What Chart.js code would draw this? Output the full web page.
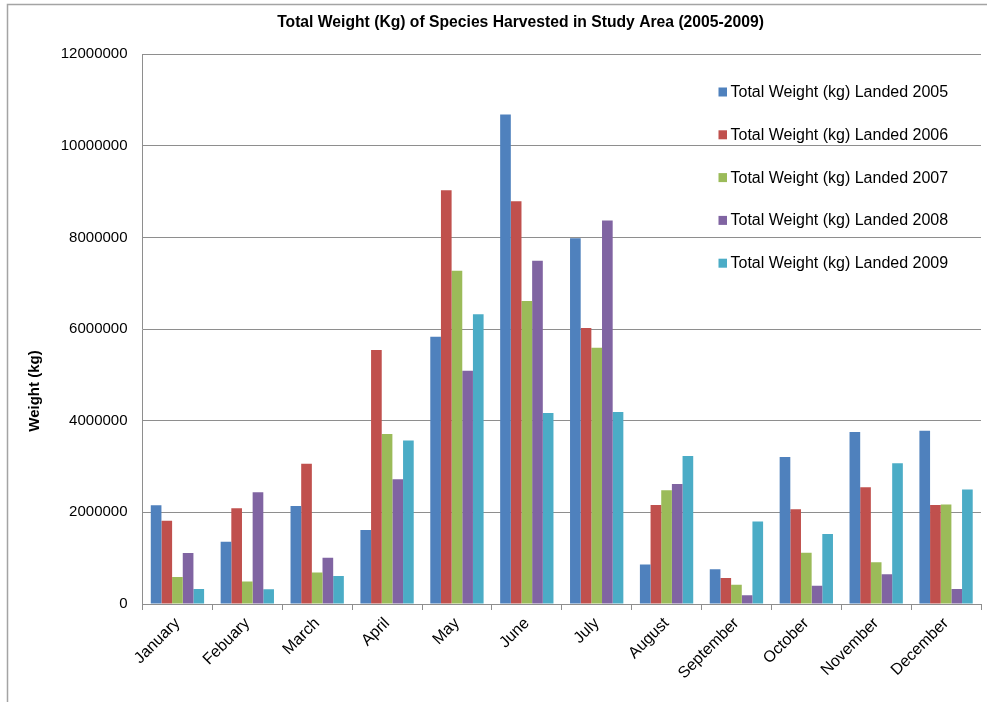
<!DOCTYPE html>
<html>
<head>
<meta charset="utf-8">
<title>Total Weight (Kg) of Species Harvested in Study Area (2005-2009)</title>
<script src="https://cdn.jsdelivr.net/npm/chart.js@4/dist/chart.umd.min.js"></script>
<style>
  html, body { margin: 0; padding: 0; background: #ffffff; }
  #wrap { width: 987px; height: 702px; position: relative; }
  canvas { display: block; }
</style>
</head>
<body>
<div id="wrap"><canvas id="chart" width="987" height="702"></canvas></div>
<script>
// Monthly landed weight (kg) per year
const months = ['January', 'Febuary', 'March', 'April', 'May', 'June', 'July',
                'August', 'September', 'October', 'November', 'December'];
const landed2005 = [2156000, 1357000, 2140000, 1615000, 5830000, 10680000, 7980000, 860000, 760000, 3210000, 3755000, 3780000];
const landed2006 = [1817000, 2090000, 3060000, 5540000, 9030000, 8790000, 6020000, 2160000, 565000, 2070000, 2550000, 2160000];
const landed2007 = [590000, 490000, 690000, 3710000, 7270000, 6610000, 5590000, 2480000, 420000, 1120000, 910000, 2170000];
const landed2008 = [1114000, 2440000, 1010000, 2720000, 5090000, 7490000, 8370000, 2620000, 190000, 400000, 650000, 330000];
const landed2009 = [330000, 320000, 610000, 3570000, 6320000, 4170000, 4190000, 3230000, 1800000, 1530000, 3070000, 2500000];
const seriesLabels = ['Total Weight (kg) Landed 2005', 'Total Weight (kg) Landed 2006',
                      'Total Weight (kg) Landed 2007', 'Total Weight (kg) Landed 2008',
                      'Total Weight (kg) Landed 2009'];
const yTickValues = [0, 2000000, 4000000, 6000000, 8000000, 10000000, 12000000];
const chartTitle = 'Total Weight (Kg) of Species Harvested in Study Area (2005-2009)';
const yAxisTitle = 'Weight (kg)';

const palette = ['#4F81BD', '#C0504D', '#9BBB59', '#8064A2', '#4BACC6'];
const FONT = '"Liberation Sans", Arial, sans-serif';
const GRID = '#8e8e8e';

const seriesValues = [landed2005, landed2006, landed2007, landed2008, landed2009];

// Outer frame line on the left and top edges
const framePlugin = {
  id: 'frame',
  beforeDraw(chart) {
    const ctx = chart.ctx;
    ctx.save();
    ctx.strokeStyle = '#a4a4a4';
    ctx.lineWidth = 1.5;
    ctx.beginPath();
    ctx.moveTo(7.5, chart.height);
    ctx.lineTo(7.5, 4.5);
    ctx.lineTo(chart.width, 4.5);
    ctx.stroke();
    ctx.restore();
  }
};

// Vertical value-axis title, placed left of the tick labels
const yTitlePlugin = {
  id: 'yTitle',
  afterDraw(chart) {
    const ctx = chart.ctx;
    ctx.save();
    ctx.translate(35, 391);
    ctx.rotate(-Math.PI / 2);
    ctx.font = 'bold 15px ' + FONT;
    ctx.fillStyle = '#000000';
    ctx.textAlign = 'center';
    ctx.textBaseline = 'middle';
    ctx.fillText(yAxisTitle, 0, 0);
    ctx.restore();
  }
};

// Legend drawn inside the plot area, one entry per dataset
const insideLegendPlugin = {
  id: 'insideLegend',
  afterDraw(chart) {
    const ctx = chart.ctx;
    ctx.save();
    ctx.font = '16px ' + FONT;
    ctx.textAlign = 'left';
    ctx.textBaseline = 'middle';
    chart.data.datasets.forEach((ds, i) => {
      const cy = 92 + i * 42.8;
      ctx.fillStyle = ds.backgroundColor;
      ctx.fillRect(718.5, cy - 4.5, 8.5, 9);
      ctx.fillStyle = '#000000';
      ctx.fillText(ds.label, 730.5, cy + 0.5);
    });
    ctx.restore();
  }
};

new Chart(document.getElementById('chart'), {
  type: 'bar',
  data: {
    labels: months,
    datasets: seriesValues.map((vals, i) => ({
      label: seriesLabels[i],
      data: vals,
      backgroundColor: palette[i],
      borderWidth: 0,
      categoryPercentage: 0.763,
      barPercentage: 1.0
    }))
  },
  options: {
    responsive: false,
    devicePixelRatio: 1,
    animation: false,
    layout: { padding: { left: 60, right: 6, top: 0, bottom: 0 } },
    plugins: {
      legend: { display: false },
      tooltip: { enabled: false },
      title: {
        display: true,
        text: chartTitle,
        color: '#000000',
        font: { family: FONT, size: 15.7, weight: 'bold' },
        padding: { top: 13, bottom: 22.2 }
      }
    },
    scales: {
      x: {
        offset: true,
        grid: {
          display: true,
          offset: true,
          drawOnChartArea: false,
          drawTicks: true,
          tickLength: 6,
          tickColor: GRID,
          tickWidth: 1
        },
        border: { display: true, color: GRID, width: 1 },
        ticks: {
          autoSkip: false,
          minRotation: 45,
          maxRotation: 45,
          padding: 4,
          color: '#000000',
          font: { family: FONT, size: 16 }
        },
        afterFit(scale) { scale.height = 98; }
      },
      y: {
        min: 0,
        max: 12000000,
        grid: {
          color: GRID,
          lineWidth: 1,
          drawTicks: false
        },
        border: { display: true, color: GRID, width: 1 },
        afterBuildTicks(scale) {
          scale.ticks = yTickValues.map(v => ({ value: v }));
        },
        ticks: {
          padding: 15,
          color: '#000000',
          font: { family: FONT, size: 15 },
          callback: (value) => String(value)
        },
        afterFit(scale) { scale.width = 82.5; }
      }
    }
  },
  plugins: [framePlugin, yTitlePlugin, insideLegendPlugin]
});
</script>
</body>
</html>
